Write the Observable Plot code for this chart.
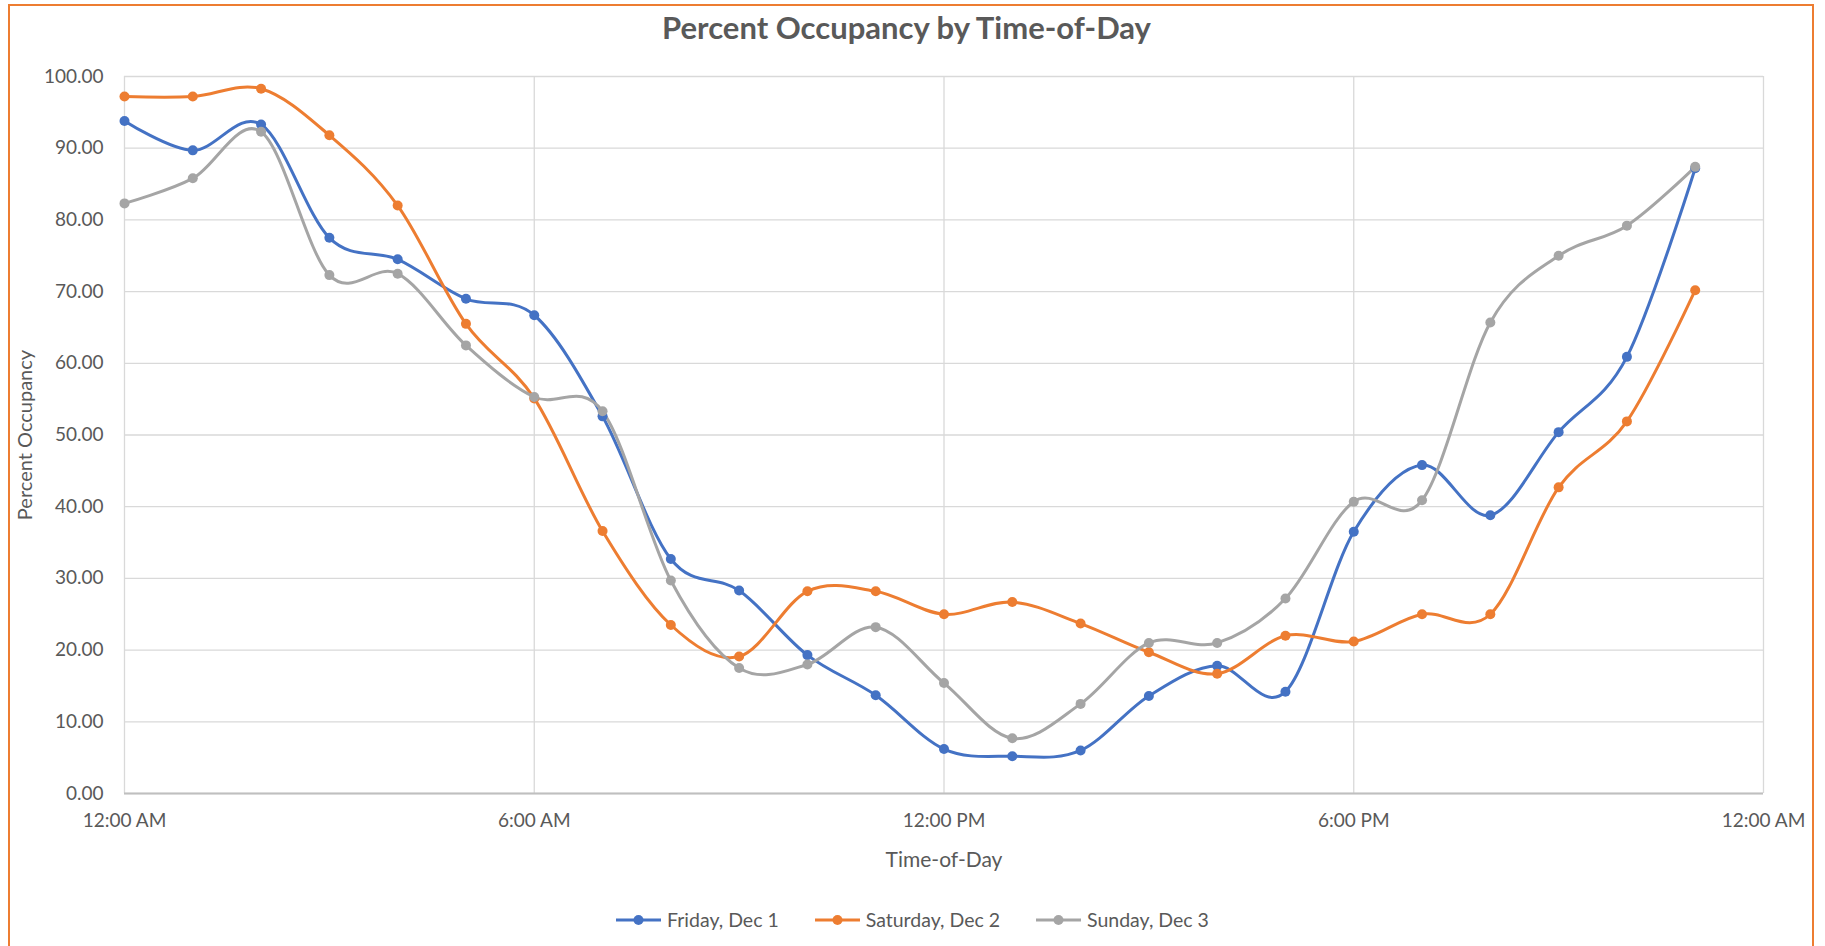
<!DOCTYPE html>
<html>
<head>
<meta charset="utf-8">
<script src="https://cdn.jsdelivr.net/npm/d3@7"></script>
<script src="https://cdn.jsdelivr.net/npm/@observablehq/plot@0.6"></script>
<style>
  html, body { margin: 0; padding: 0; background: #fff; }
  body { width: 1825px; height: 946px; position: relative; overflow: hidden; font-family: Lato, "Liberation Sans", sans-serif; color: #595959; }
  #frame { position: absolute; left: 8px; top: 4px; width: 1806px; height: 960px; border: 2px solid #ED7D31; box-sizing: border-box; }
  #title { position: absolute; left: -6px; width: 1825px; top: 8px; text-align: center; font-size: 31px; font-weight: bold; color: #595959; }
  #chart { position: absolute; left: 0; top: 0; }
  #legend { position: absolute; left: 0; width: 1825px; top: 908px; display: flex; justify-content: center; gap: 36px; font-size: 19.5px; color: #595959; }
  .item { display: flex; align-items: center; gap: 6px; }
</style>
</head>
<body>
<div id="frame"></div>
<div id="chart"></div>
<div id="title">Percent Occupancy by Time-of-Day</div>
<div id="legend"></div>
<script>
const hours = [0, 1, 2, 3, 4, 5, 6, 7, 8, 9, 10, 11, 12, 13, 14, 15, 16, 17, 18, 19, 20, 21, 22, 23];
const friday = [93.8, 89.7, 93.3, 77.5, 74.5, 69.0, 66.7, 52.6, 32.7, 28.3, 19.3, 13.7, 6.2, 5.2, 6.0, 13.6, 17.8, 14.2, 36.5, 45.8, 38.8, 50.4, 60.9, 87.2];
const saturday = [97.2, 97.2, 98.3, 91.8, 82.0, 65.5, 55.1, 36.6, 23.5, 19.1, 28.2, 28.2, 25.0, 26.7, 23.7, 19.7, 16.7, 22.0, 21.2, 25.0, 25.0, 42.7, 51.9, 70.2];
const sunday = [82.3, 85.8, 92.3, 72.3, 72.5, 62.5, 55.3, 53.3, 29.7, 17.5, 18.0, 23.2, 15.4, 7.7, 12.5, 21.0, 21.0, 27.2, 40.7, 40.9, 65.7, 75.0, 79.2, 87.4];
const seriesNames = ["Friday, Dec 1", "Saturday, Dec 2", "Sunday, Dec 3"];
const seriesColors = ["#4472C4", "#ED7D31", "#A5A5A5"];
const xTickValues = [0, 6, 12, 18, 24];
const xTickLabels = ["12:00 AM", "6:00 AM", "12:00 PM", "6:00 PM", "12:00 AM"];
const yTickValues = [0, 10, 20, 30, 40, 50, 60, 70, 80, 90, 100];
const xTitle = "Time-of-Day";
const yTitle = "Percent Occupancy";

const allSeries = [friday, saturday, sunday];
const data = [];
allSeries.forEach((vals, si) => {
  vals.forEach((v, i) => data.push({hour: hours[i], value: v, series: seriesNames[si]}));
});

const W = 1825, H = 890;
const plot = Plot.plot({
  width: W,
  height: H,
  marginLeft: 124,
  marginRight: 62,
  marginTop: 76,
  marginBottom: H - 793,
  style: {fontFamily: "Lato, 'Liberation Sans', sans-serif", fontSize: "19px", color: "#595959", background: "transparent"},
  x: {domain: [0, 24], ticks: xTickValues, tickFormat: d => xTickLabels[xTickValues.indexOf(d)], tickSize: 0, tickPadding: 20, label: null},
  y: {domain: [0, 100], ticks: yTickValues, tickFormat: d3.format(".2f"), tickSize: 0, tickPadding: 21, label: null},
  color: {domain: seriesNames, range: seriesColors},
  marks: [
    Plot.gridY(yTickValues, {stroke: "#D9D9D9", strokeOpacity: 1, strokeWidth: 1.3}),
    Plot.gridX(xTickValues, {stroke: "#D9D9D9", strokeOpacity: 1, strokeWidth: 1.3}),
    Plot.ruleY([0], {stroke: "#BFBFBF", strokeWidth: 2}),
    Plot.line(data, {x: "hour", y: "value", z: "series", stroke: "series", strokeWidth: 3, curve: "cardinal", tension: 0}),
    Plot.dot(data, {x: "hour", y: "value", fill: "series", r: 5, stroke: "none"}),
    Plot.text([xTitle], {frameAnchor: "bottom", dy: 73, fontSize: 21, fill: "#595959", textAnchor: "middle"}),
    Plot.text([yTitle], {frameAnchor: "left", dx: -99, rotate: -90, fontSize: 20, fill: "#595959", textAnchor: "middle"})
  ]
});
document.getElementById("chart").appendChild(plot);

const legend = document.getElementById("legend");
seriesNames.forEach((name, i) => {
  const item = document.createElement("div");
  item.className = "item";
  item.innerHTML = `<svg width="45" height="14"><line x1="0" y1="7" x2="45" y2="7" stroke="${seriesColors[i]}" stroke-width="3"/><circle cx="22.5" cy="7" r="5" fill="${seriesColors[i]}"/></svg><span>${name}</span>`;
  legend.appendChild(item);
});
</script>
</body>
</html>
